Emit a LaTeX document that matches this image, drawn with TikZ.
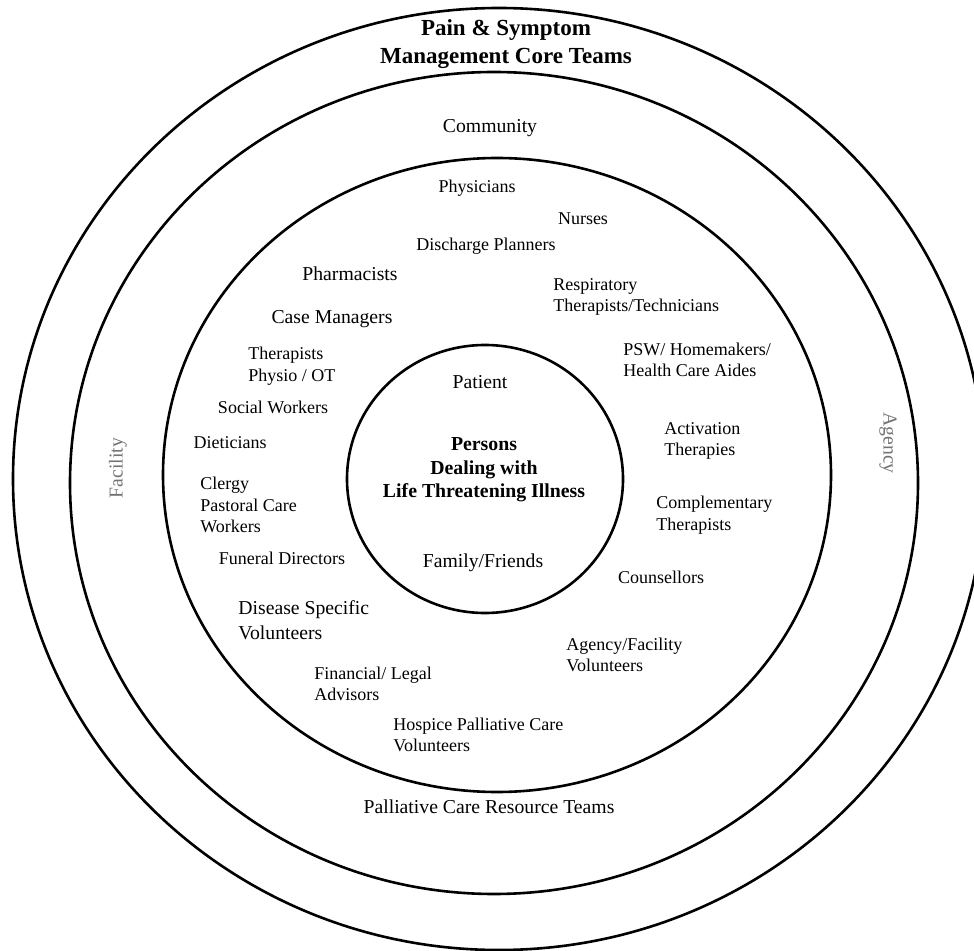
\documentclass[tikz,border=0pt]{standalone}
\usepackage{fontspec}
\setmainfont{Liberation Serif}
\begin{document}
\begin{tikzpicture}[
    x=0.5pt, y=-0.5pt,
    layer/.style={
        line width=1.3pt,
        draw=black
    },
    role/.style={
        inner sep=0pt,
        align=left,
        font=\fontsize{9}{10.8}\selectfont
    },
    group/.style={
        inner sep=0pt,
        align=center,
        font=\fontsize{9.85}{12.4}\selectfont
    },
    side/.style={group, text=black!55},
    core/.style={
        inner sep=0pt,
        align=center,
        font=\fontsize{9.9}{11.8}\selectfont\bfseries
    },
    banner/.style={
        inner sep=0pt,
        align=center,
        font=\fontsize{11.5}{14}\selectfont\bfseries
    }
]
\useasboundingbox (0,0) rectangle (974,951);
\clip (0,0) rectangle (974,951);

% rings, outermost first
\draw[layer] (499,479) ellipse [x radius=486, y radius=471];
\draw[layer] (494,483) ellipse [x radius=424, y radius=411];
\draw[layer] (497,475) ellipse [x radius=334, y radius=317];
\draw[layer] (485,479) ellipse [x radius=138, y radius=134];

% outer bands
\node[banner] (core) at (506,44) {Pain \& Symptom\\Management Core Teams};
\node[group] (community) at (490,128) {Community};
\node[group] (resource) at (489,807) {Palliative Care Resource Teams};
\node[side, rotate=90] (facility) at (118,468) {Facility};
\node[side, rotate=-90] (agency) at (888,443) {Agency};

% care providers, left half
\node[role] (physicians) at (477,188) {Physicians};
\node[role] (discharge) at (486,246) {Discharge Planners};
\node[group] (pharmacists) at (350,274) {Pharmacists};
\node[group] (casemgr) at (332,319) {Case Managers};
\node[role, anchor=west] (therapists) at (248,366) {Therapists\\Physio / OT};
\node[role] (social) at (273,407) {Social Workers};
\node[role] (dieticians) at (230,443) {Dieticians};
\node[role, anchor=west] (clergy) at (200,505) {Clergy\\Pastoral Care\\Workers};
\node[role] (funeral) at (282,558) {Funeral Directors};
\node[group, align=left, anchor=west] (disease) at (238,620) {Disease Specific\\Volunteers};
\node[role, anchor=west] (financial) at (314,684) {Financial/ Legal\\Advisors};
\node[role, anchor=west] (hospice) at (393,735) {Hospice Palliative Care\\Volunteers};

% care providers, right half
\node[role] (nurses) at (583,219) {Nurses};
\node[role, anchor=west] (respiratory) at (553,297) {Respiratory\\Therapists/Technicians};
\node[role, anchor=west] (psw) at (623,360) {PSW/ Homemakers/\\Health Care Aides};
\node[role, anchor=west] (activation) at (664,441) {Activation\\Therapies};
\node[role, anchor=west] (complementary) at (656,515) {Complementary\\Therapists};
\node[role] (counsellors) at (661,577) {Counsellors};
\node[role, anchor=west] (agencyvol) at (566,655) {Agency/Facility\\Volunteers};

% centre
\node[group] (patient) at (480,382) {Patient};
\node[core] (persons) at (484,470) {Persons\\Dealing with\\Life Threatening Illness};
\node[group] (family) at (483,563) {Family/Friends};

\end{tikzpicture}
\end{document}
